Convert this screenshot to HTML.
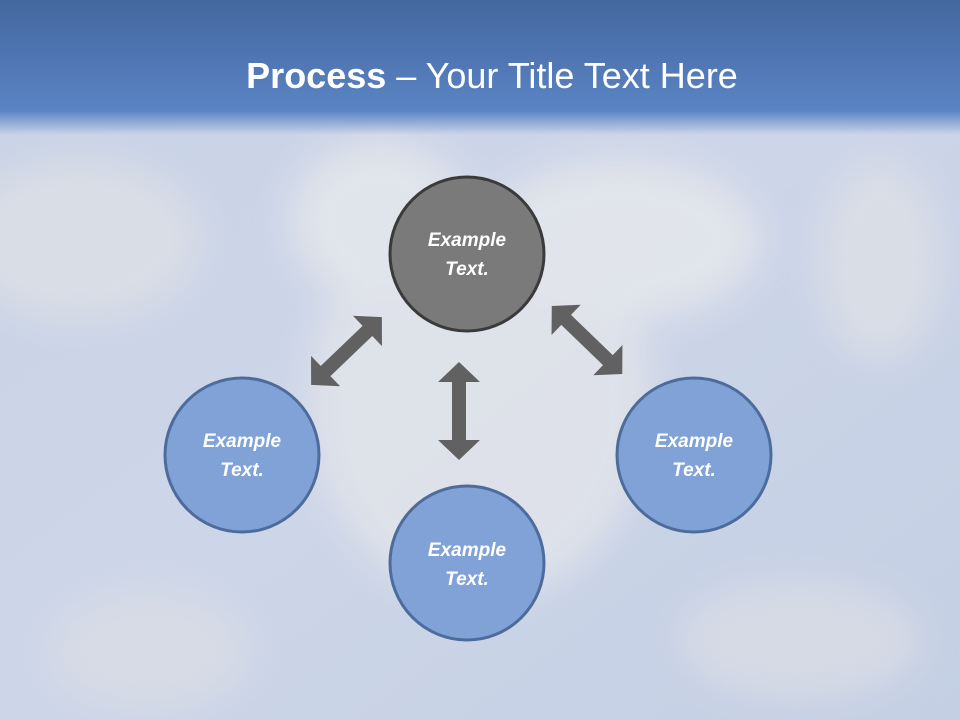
<!DOCTYPE html>
<html><head><meta charset="utf-8"><style>
html,body{margin:0;padding:0;width:960px;height:720px;overflow:hidden}
text{font-family:"Liberation Sans",sans-serif}
</style></head><body>
<svg width="960" height="720" xmlns="http://www.w3.org/2000/svg">
<defs>
<linearGradient id="bg" x1="0" y1="0" x2="1" y2="1">
<stop offset="0" stop-color="#c9d3e6"/><stop offset="0.5" stop-color="#cdd6e8"/><stop offset="1" stop-color="#c4cfe4"/>
</linearGradient>
<linearGradient id="tb" x1="0" y1="0" x2="0" y2="1">
<stop offset="0" stop-color="#44679f"/><stop offset="0.82" stop-color="#5a84c4"/><stop offset="1" stop-color="#5a84c4" stop-opacity="0"/>
</linearGradient>
<filter id="bl"><feGaussianBlur stdDeviation="18"/></filter>
<polygon id="ar" points="-49,0 -29,-21 -29,-7 29,-7 29,-21 49,0 29,21 29,7 -29,7 -29,21" fill="#616161"/>
</defs>
<rect width="960" height="720" fill="url(#bg)"/>
<g filter="url(#bl)" opacity="0.8">
<ellipse cx="480" cy="400" rx="170" ry="200" fill="#e3e5ea"/>
<ellipse cx="620" cy="240" rx="140" ry="80" fill="#e6e8ec"/>
<ellipse cx="380" cy="220" rx="90" ry="80" fill="#e6e8ec"/>
<ellipse cx="80" cy="240" rx="120" ry="80" fill="#dde0e6"/>
<ellipse cx="880" cy="260" rx="60" ry="100" fill="#dde0e6"/>
<ellipse cx="150" cy="650" rx="100" ry="60" fill="#d9dde5"/>
<ellipse cx="800" cy="640" rx="120" ry="60" fill="#d9dde5"/>
</g>
<rect width="960" height="135" fill="url(#tb)"/>
<text x="492" y="88" text-anchor="middle" font-size="36" fill="#fff"><tspan font-weight="bold">Process</tspan> – Your Title Text Here</text>
<use href="#ar" transform="translate(346.5,351) rotate(-43.8)"/>
<use href="#ar" transform="translate(587,340) rotate(44)"/>
<use href="#ar" transform="translate(459,411) rotate(90)"/>
<g font-size="19" font-style="italic" font-weight="bold" fill="#fff" text-anchor="middle">
<circle cx="467" cy="254" r="77" fill="#7a7a7a" stroke="#3a3a3a" stroke-width="3"/>
<text x="467" y="246">Example</text><text x="467" y="275">Text.</text>
<circle cx="242" cy="455" r="77" fill="#80a2d6" stroke="#4d6c9c" stroke-width="3"/>
<text x="242" y="447">Example</text><text x="242" y="476">Text.</text>
<circle cx="467" cy="563" r="77" fill="#80a2d6" stroke="#4d6c9c" stroke-width="3"/>
<text x="467" y="556">Example</text><text x="467" y="585">Text.</text>
<circle cx="694" cy="455" r="77" fill="#80a2d6" stroke="#4d6c9c" stroke-width="3"/>
<text x="694" y="447">Example</text><text x="694" y="476">Text.</text>
</g>
</svg>
</body></html>
